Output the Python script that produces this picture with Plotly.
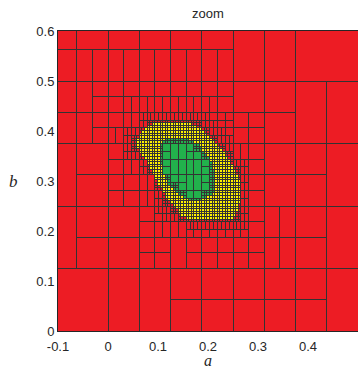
import plotly.graph_objects as go

# ---------------- data ----------------
# kd-tree depth of the leaf covering each 1/32 x 1/32 block.
# Columns: x from -0.125 to 0.5 in steps of 1/32; rows listed from top (y 0.59-0.625) to bottom (y 0-0.031).
# depth 0 = 1/8 square, 1 = 1/16 x 1/8, 2 = 1/16 square, 3 = 1/32 x 1/16, 4 = 1/32 square,
# 5 = 1/64 x 1/32, 6 = 1/64 square, '*' = refined further (1/64 and finer)
coarse_rows = [
    "22222222222211110000",
    "22222222222211110000",
    "22333333333311110000",
    "22333333333311110000",
    "22344444444422221111",
    "22344555555422221111",
    "223445******44221111",
    "22345*******44221111",
    "11224*******54222211",
    "112245*******4222211",
    "1122445******4222211",
    "1122445******4222211",
    "1122224******4332211",
    "112222455****4332211",
    "11222244344444332211",
    "11222244344444332211",
    "00001111222222222211",
    "00001111222222222211",
    "00001111222222222211",
    "00001111222222222211",
]

# Finest cells (1/192 units): for each fine row t, the yellow span [left, right) in s units
ring_t = [79, 78, 77, 76, 75, 74, 73, 72, 71, 70, 69, 68, 67, 66, 65, 64, 63, 62, 61,
          60, 59, 58, 57, 56, 55, 54, 53, 52, 51, 50, 49, 48, 47, 46, 45, 44, 43]
ring_left = [17, 15, 14, 13, 12, 12, 11, 11, 11, 11, 12, 12, 13, 14, 15, 15, 16, 16, 17,
             17, 18, 18, 19, 19, 20, 21, 21, 22, 22, 23, 24, 25, 26, 27, 27, 28, 30]
ring_right = [32, 34, 36, 37, 38, 39, 40, 41, 42, 43, 44, 45, 45, 46, 47, 47, 48, 48, 49,
              49, 50, 50, 51, 51, 51, 51, 51, 51, 51, 51, 51, 50, 50, 50, 49, 49, 48]
# green interior span per fine row
green_t = [73, 72, 71, 70, 69, 68, 67, 66, 65, 64, 63, 62, 61, 60, 59, 58, 57, 56, 55,
           54, 53, 52, 51, 50]
green_left = [22, 21, 20, 20, 20, 20, 20, 20, 20, 20, 21, 21, 21, 21, 22, 22, 23, 23, 24,
              25, 26, 27, 29, 31]
green_right = [31, 33, 35, 36, 36, 37, 38, 39, 39, 40, 40, 40, 41, 41, 41, 41, 41, 41, 41,
               41, 41, 40, 38, 36]

x_ticks = [-0.1, 0, 0.1, 0.2, 0.3, 0.4]
x_tick_text = ["-0.1", "0", "0.1", "0.2", "0.3", "0.4"]
y_ticks = [0, 0.1, 0.2, 0.3, 0.4, 0.5, 0.6]
y_tick_text = ["0", "0.1", "0.2", "0.3", "0.4", "0.5", "0.6"]

COLORS = {"R": "#ED1C24", "Y": "#FFF200", "G": "#22B14C"}
LINE = "#333333"

# ---------------- build the cells ----------------
ymap = {t: (l, r) for t, l, r in zip(ring_t, ring_left, ring_right)}
gmap = {t: (l, r) for t, l, r in zip(green_t, green_left, green_right)}


def fine_color(s, t):
    if t in gmap and gmap[t][0] <= s < gmap[t][1]:
        return "G"
    if t in ymap and ymap[t][0] <= s < ymap[t][1]:
        return "Y"
    return "R"


def kind64(u, v):
    cs = [fine_color(3 * u + i, 3 * v + j) for i in range(3) for j in range(3)]
    if "Y" in cs:
        return "F"
    if all(c == "G" for c in cs):
        return "G"
    if "G" in cs:
        return "F"
    return "R"


kinds = {(u, v): kind64(u, v) for u in range(-8, 32) for v in range(0, 40)}

depth = {}
for ri, row in enumerate(coarse_rows):
    V = 19 - ri
    for ci, ch in enumerate(row):
        depth[(ci - 4, V)] = ch
for (u, v), k in kinds.items():
    if k != "R":
        depth[(u // 2, v // 2)] = "*"

rects = {}   # (x0, y0, x1, y1) -> color


def add(x0, y0, x1, y1, c):
    rects[(x0, y0, x1, y1)] = c


def has_f_neighbor(u, v):
    for du in (-1, 0, 1):
        for dv in (-1, 0, 1):
            if (du or dv) and kinds.get((u + du, v + dv)) == "F":
                return True
    return False


for (U, V), d in depth.items():
    if d == "*":
        subs = [(2 * U + i, 2 * V + j) for i in range(2) for j in range(2)]
        if all(kinds[s] == "G" for s in subs):
            add(U / 32, V / 32, (U + 0.5) / 32, (V + 1) / 32, "G")
            add((U + 0.5) / 32, V / 32, (U + 1) / 32, (V + 1) / 32, "G")
            continue
        for (u, v) in subs:
            k = kinds[(u, v)]
            if k == "F":
                for i in range(3):
                    for j in range(3):
                        s, t = 3 * u + i, 3 * v + j
                        add(s / 192, t / 192, (s + 1) / 192, (t + 1) / 192, fine_color(s, t))
            elif k == "G":
                add(u / 64, v / 64, (u + 1) / 64, (v + 1) / 64, "G")
            elif has_f_neighbor(u, v):
                for i in range(2):
                    a = 2 * u + i
                    add(a / 128, v / 64, (a + 1) / 128, (v + 1) / 64, "R")
            else:
                add(u / 64, v / 64, (u + 1) / 64, (v + 1) / 64, "R")
        continue
    d = int(d)
    if d <= 4:
        rU = ((U + 4) // 4) * 4 - 4
        rV = (V // 4) * 4
        w = 4 >> ((d + 1) // 2)
        h = 4 >> (d // 2)
        x0 = rU + ((U - rU) // w) * w
        y0 = rV + ((V - rV) // h) * h
        add(x0 / 32, y0 / 32, (x0 + w) / 32, (y0 + h) / 32, "R")
    elif d == 5:
        add(U / 32, V / 32, (U + 0.5) / 32, (V + 1) / 32, "R")
        add((U + 0.5) / 32, V / 32, (U + 1) / 32, (V + 1) / 32, "R")
    else:
        for i in range(2):
            for j in range(2):
                add((U + i / 2) / 32, (V + j / 2) / 32, (U + (i + 1) / 2) / 32, (V + (j + 1) / 2) / 32, "R")

fills = {"R": ([], []), "Y": ([], []), "G": ([], [])}
lx, ly = [], []
for (x0, y0, x1, y1), c in rects.items():
    fx, fy = fills[c]
    fx += [x0, x1, x1, x0, x0, None]
    fy += [y0, y0, y1, y1, y0, None]
    lx += [x0, x1, x1, x0, x0, None]
    ly += [y0, y0, y1, y1, y0, None]

fig = go.Figure()
for c in ["R", "Y", "G"]:
    fx, fy = fills[c]
    fig.add_trace(go.Scatter(x=fx, y=fy, mode="lines", fill="toself", fillcolor=COLORS[c],
                             line=dict(width=0, color=COLORS[c]), hoverinfo="skip", showlegend=False))
fig.add_trace(go.Scatter(x=lx, y=ly, mode="lines", line=dict(width=1, color=LINE),
                         hoverinfo="skip", showlegend=False))

axis_font = dict(family="Liberation Sans, Arial, sans-serif", size=13, color="#262626")
fig.update_layout(
    width=358, height=371,
    margin=dict(l=58, r=0, t=31, b=40),
    paper_bgcolor="white", plot_bgcolor=COLORS["R"],
    xaxis=dict(range=[-0.1, 0.5], tickvals=x_ticks, ticktext=x_tick_text, showgrid=False,
               zeroline=False, showline=True, linecolor="#262626", linewidth=1, mirror=True,
               ticks="", tickfont=axis_font, ticklabelstandoff=3),
    yaxis=dict(range=[0, 0.6], tickvals=y_ticks, ticktext=y_tick_text, showgrid=False,
               zeroline=False, showline=True, linecolor="#262626", linewidth=1, mirror=True,
               ticks="", tickfont=axis_font),
    annotations=[
        dict(text="zoom", xref="paper", yref="paper", x=0.5, y=1, yanchor="bottom", yshift=8,
             showarrow=False, font=dict(family="Liberation Sans, Arial, sans-serif", size=13, color="#262626")),
        dict(text="<i>a</i>", xref="paper", yref="paper", x=0.5, y=-0.099, yanchor="middle",
             showarrow=False, font=dict(family="Liberation Serif, Times New Roman, serif", size=16, color="#262626")),
        dict(text="<i>b</i>", xref="paper", yref="paper", x=0, y=0.5, xanchor="right", xshift=-38,
             showarrow=False, font=dict(family="Liberation Serif, Times New Roman, serif", size=17, color="#262626")),
    ],
)

# render the cell paths with crisp (pixel-snapped) edges, as in the reference
crisp_js = """
function crisp(){
  document.querySelectorAll('.scatterlayer path').forEach(function(p){
    p.style.shapeRendering = 'crispEdges';
  });
}
crisp(); setTimeout(crisp, 0); setTimeout(crisp, 200);
"""
fig.write_html("out.html", post_script=crisp_js)
